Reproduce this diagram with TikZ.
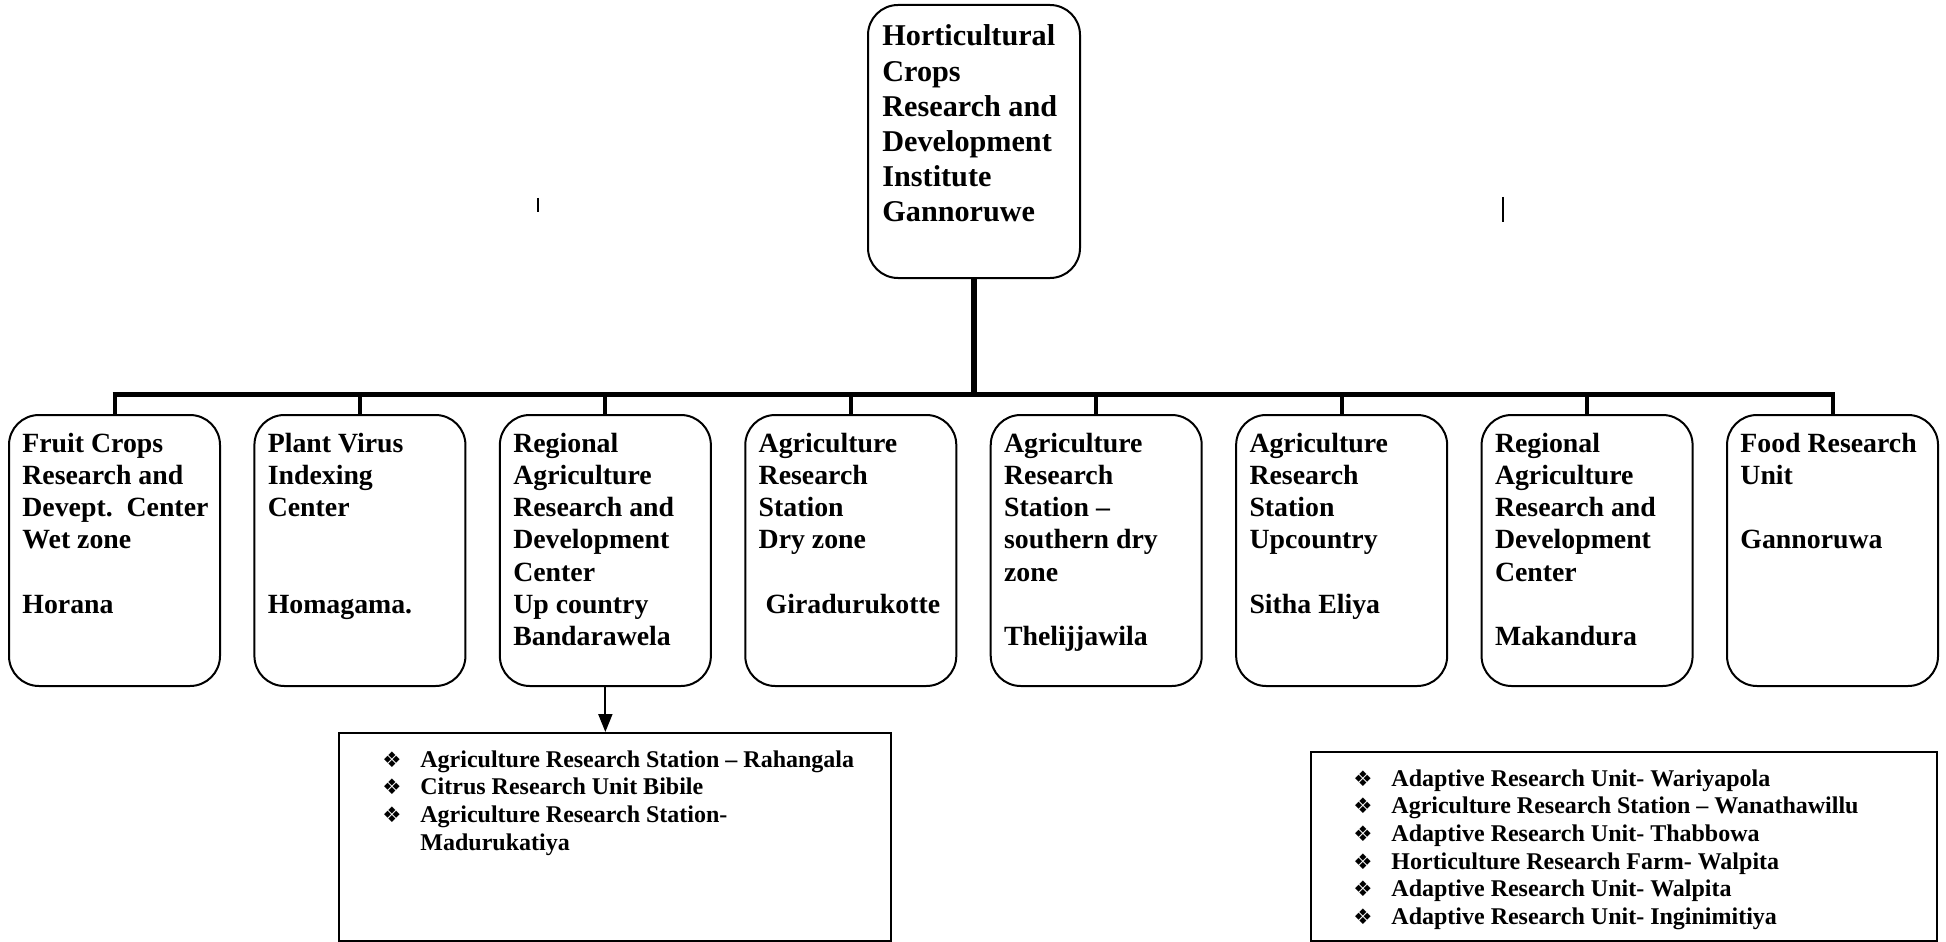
\documentclass[tikz,border=0pt]{standalone}
\usepackage{fontspec}
\setmainfont{Liberation Serif}
\newfontfamily\symfont{DejaVu Sans}
\usetikzlibrary{arrows.meta}
\newcommand{\bul}{\makebox[19pt][l]{\symfont\mdseries\fontsize{10.7pt}{10.7pt}\selectfont ❖}}
\newcommand{\cpar}[1]{\parbox[t]{100pt}{\raggedright #1}}
\newcommand{\lpar}[2]{\parbox[t]{#1}{\raggedright #2}}
\tikzset{
  cbox/.style={draw, line width=1pt, rounded corners=15pt, minimum width=105.5pt, minimum height=135.5pt, inner sep=0pt},
  topbox/.style={cbox, minimum width=106pt, minimum height=136.5pt},
  listbox/.style={draw, line width=1pt, inner sep=0pt},
  txt/.style={inner sep=0pt, anchor=base west},
  toptxt/.style={txt, font=\fontsize{15.1pt}{17.6pt}\selectfont\bfseries},
  ctxt/.style={txt, font=\fontsize{13.9pt}{16.15pt}\selectfont\bfseries},
  ltxt/.style={txt, font=\fontsize{12pt}{13.85pt}\selectfont\bfseries},
  trunk/.style={line width=2.7pt},
  drop/.style={line width=2pt},
  arr/.style={line width=1pt, -{Triangle[length=9pt,width=7pt]}},
  stray/.style={line width=1.2pt}
}
\begin{document}
\begin{tikzpicture}[x=0.5pt,y=-0.5pt]
\clip (0,0) rectangle (1946,941);
\fill[white] (0,0) rectangle (1946,941);

% top node
\node[topbox] (top) at (974,141.5) {};
\node[toptxt] (toptext) at (882,46) {\cpar{Horticultural\\Crops\\Research and\\Development\\Institute\\Gannoruwe}};

% child boxes
\foreach \i in {1,...,8}
  \node[cbox] (c\i) at ({114.5+245.43*(\i-1)},550.5) {};

\node[ctxt] (t1) at (22,452) {\cpar{Fruit Crops\\Research and\\Devept.\ \ Center\\Wet zone\\\mbox{}\\Horana}};
\node[ctxt] (t2) at (267.4,452) {\cpar{Plant Virus\\Indexing\\Center\\\mbox{}\\\mbox{}\\Homagama.}};
\node[ctxt] (t3) at (512.9,452) {\cpar{Regional\\Agriculture\\Research and\\Development\\Center\\Up country\\Bandarawela}};
\node[ctxt] (t4) at (758.3,452) {\cpar{Agriculture\\Research\\Station\\Dry zone\\\mbox{}\\\hspace*{0.25em}Giradurukotte}};
\node[ctxt] (t5) at (1003.7,452) {\cpar{Agriculture\\Research\\Station –\\southern dry\\zone\\\mbox{}\\Thelijjawila}};
\node[ctxt] (t6) at (1249.1,452) {\cpar{Agriculture\\Research\\Station\\Upcountry\\\mbox{}\\Sitha Eliya}};
\node[ctxt] (t7) at (1494.6,452) {\cpar{Regional\\Agriculture\\Research and\\Development\\Center\\\mbox{}\\Makandura}};
\node[ctxt] (t8) at (1740,452) {\cpar{Food Research\\Unit\\\mbox{}\\Gannoruwa}};

% tree connectors
\coordinate (bar) at (0,394.5);
\draw[trunk] (top.south) -- (top.south |- bar);
\draw[trunk] ([xshift=-1pt]c1.north |- bar) -- ([xshift=1pt]c8.north |- bar);
\foreach \i in {1,...,8}
  \draw[drop] (c\i.north |- bar) -- (c\i.north);

% list boxes
\node[listbox, minimum width=276pt, minimum height=104pt] (lb1) at (615,837) {};
\node[listbox, minimum width=313pt, minimum height=94.5pt] (lb2) at (1624,846.5) {};

\node[ltxt] (l1) at (382,767) {\lpar{255pt}{\bul Agriculture Research Station – Rahangala\\\bul Citrus Research Unit Bibile\\\bul Agriculture Research Station-\\\hspace*{19pt}Madurukatiya}};
\node[ltxt] (l2) at (1353,786) {\lpar{292pt}{\bul Adaptive Research Unit- Wariyapola\\\bul Agriculture Research Station – Wanathawillu\\\bul Adaptive Research Unit- Thabbowa\\\bul Horticulture Research Farm- Walpita\\\bul Adaptive Research Unit- Walpita\\\bul Adaptive Research Unit- Inginimitiya}};

\draw[arr] (c3.south) -- (c3.south |- lb1.north);

% stray marks
\draw[stray] (538,198) -- (538,212);
\draw[stray] (1503,197) -- (1503,222);
\end{tikzpicture}
\end{document}
